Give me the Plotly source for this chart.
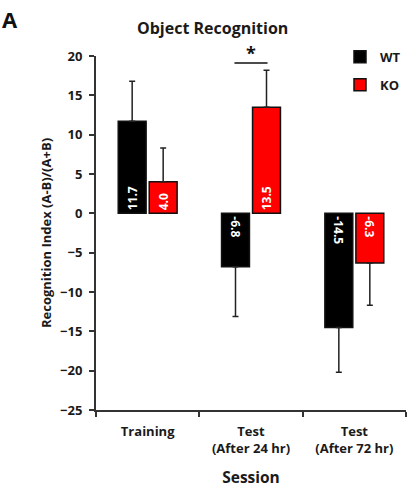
import plotly.graph_objects as go

# Session categories and group results
sessions = ["Training", "Test<br>(After 24 hr)", "Test<br>(After 72 hr)"]
wt_mean = [11.7, -6.8, -14.5]
ko_mean = [4.0, 13.5, -6.3]
wt_err = [5.1, 6.3, 5.7]
ko_err = [4.3, 4.7, 5.4]
y_ticks = [20, 15, 10, 5, 0, -5, -10, -15, -20, -25]
sig_y = 19.1

FONT = "Open Sans"
AXIS = "#333333"
INK = "#1a1a1a"


def bars(name, means, errs, color):
    """One trace per sign so labels read away from the zero line;
    both share an offsetgroup so they occupy the same slot."""
    traces = []
    for positive in (True, False):
        xs, ys, up, down = [], [], [], []
        for s, m, e in zip(sessions, means, errs):
            if (m >= 0) == positive:
                xs.append(s)
                ys.append(m)
                up.append(e if positive else 0)
                down.append(0 if positive else e)
        traces.append(go.Bar(
            name=name, x=xs, y=ys, offsetgroup=name, legendgroup=name,
            showlegend=positive,
            marker=dict(color=color, line=dict(color="#111111", width=1.5)),
            text=[f"{v:.1f}" for v in ys], textposition="inside",
            insidetextanchor="start", textangle=-90 if positive else 90,
            textfont=dict(family=FONT, size=12, color="white", weight="bold"),
            error_y=dict(type="data", symmetric=False, array=up, arrayminus=down,
                         color="#222222", thickness=1.5, width=3),
        ))
    return traces


fig = go.Figure(bars("WT", wt_mean, wt_err, "#000000")
                + bars("KO", ko_mean, ko_err, "#ff0000"))

boundaries = [-0.5, 0.5, 1.5, 2.5]

fig.update_layout(
    width=407, height=491,
    margin=dict(l=96, r=1, t=56, b=81, autoexpand=False),
    paper_bgcolor="white", plot_bgcolor="white",
    barmode="group", bargap=0.4, bargroupgap=0.1,
    font=dict(family=FONT, color=INK),
    showlegend=True,
    legend=dict(x=1.0, y=1.04, xanchor="right", yanchor="top",
                font=dict(size=13, weight="bold"), tracegroupgap=8,
                itemwidth=30, bgcolor="rgba(0,0,0,0)"),
    xaxis=dict(
        type="category", categoryorder="array", categoryarray=sessions,
        range=[-0.5, 2.5], tickson="boundaries",
        showline=True, linecolor=AXIS, linewidth=2,
        ticks="outside", ticklen=5, tickwidth=2, tickcolor=AXIS,
        ticklabelstandoff=8,
        tickfont=dict(size=13, weight="bold"), showgrid=False,
        title=dict(text="Session", font=dict(size=15.5, weight="bold"), standoff=17),
    ),
    xaxis2=dict(
        overlaying="x", anchor="free", position=25 / 45, range=[-0.5, 2.5],
        tickvals=boundaries, showticklabels=False, showgrid=False,
        showline=True, linecolor=AXIS, linewidth=2,
        ticks="outside", ticklen=4, tickwidth=2, tickcolor=AXIS, zeroline=False,
    ),
    xaxis3=dict(
        overlaying="x", anchor="free", position=25 / 45, range=[-0.5, 2.5],
        tickvals=boundaries, showticklabels=False, showgrid=False,
        showline=False, side="top",
        ticks="outside", ticklen=4, tickwidth=2, tickcolor=AXIS, zeroline=False,
    ),
    yaxis=dict(
        range=[-25, 20], tickvals=y_ticks, showgrid=False, zeroline=False,
        showline=True, linecolor=AXIS, linewidth=2,
        ticks="outside", ticklen=5, tickwidth=2, tickcolor=AXIS,
        ticklabelstandoff=4,
        tickfont=dict(size=13, weight="bold"),
        title=dict(text="Recognition Index (A-B)/(A+B)",
                   font=dict(size=13, weight="bold"), standoff=6),
    ),
)

# significance bracket over the 24 hr test session
fig.add_shape(type="line", xref="x", yref="y", x0=0.84, x1=1.16,
              y0=sig_y, y1=sig_y, line=dict(color="#111111", width=1.5))
fig.add_annotation(x=1, y=sig_y, xref="x", yref="y", text="*", showarrow=False,
                   yanchor="bottom", yshift=-4,
                   font=dict(size=18, weight="bold", color="#111111"))

fig.add_annotation(text="Object Recognition", xref="paper", yref="paper",
                   x=0.375, y=1.0, yshift=28, xanchor="center", yanchor="middle",
                   showarrow=False, font=dict(size=16, weight="bold", color=INK))
fig.add_annotation(text="A", xref="paper", yref="paper", x=-0.31, y=1.0, yshift=37,
                   xanchor="left", yanchor="middle", showarrow=False,
                   font=dict(size=22, weight="bold", color="#111111"))

fig.write_html("out.html")
